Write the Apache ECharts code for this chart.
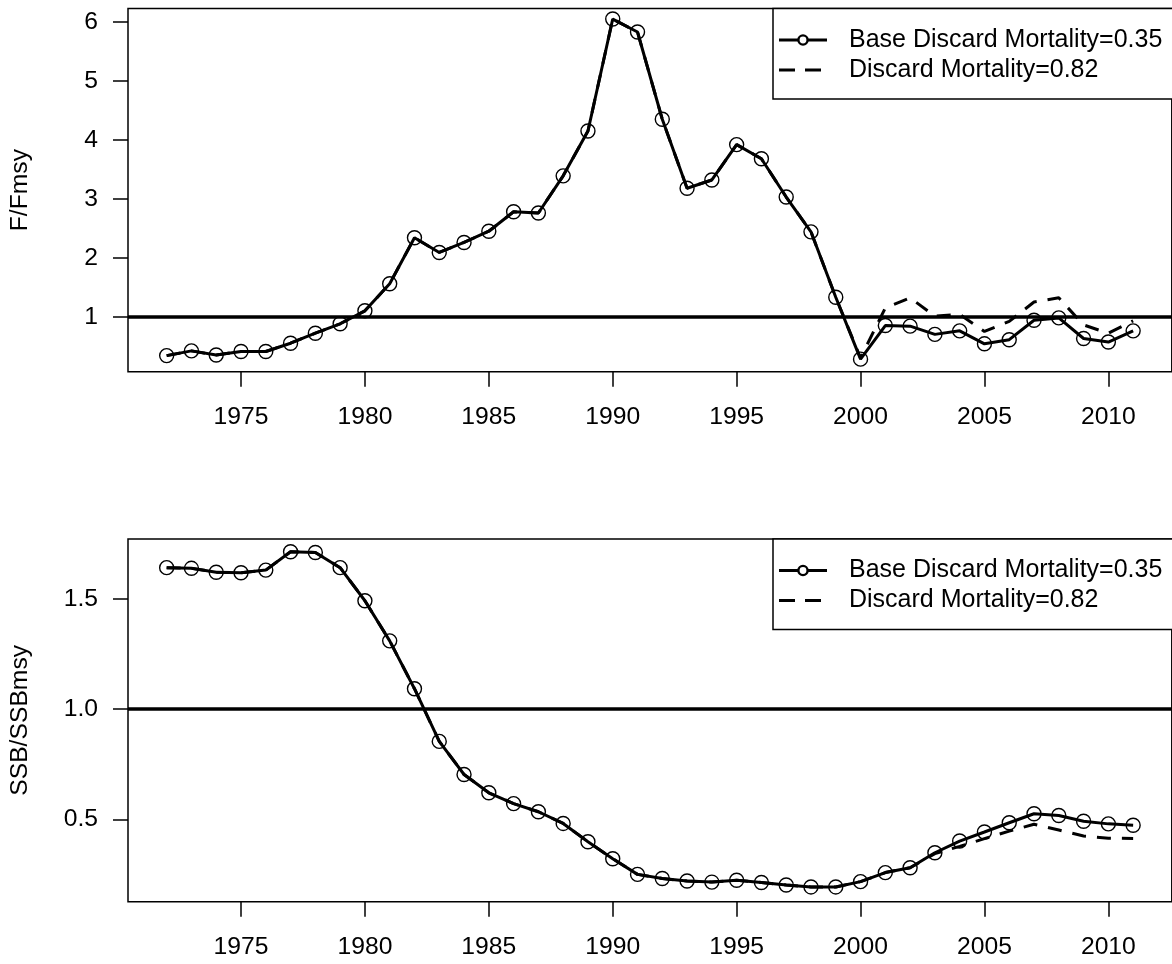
<!DOCTYPE html>
<html>
<head>
<meta charset="utf-8">
<title>F/Fmsy and SSB/SSBmsy under two discard mortality assumptions</title>
<script src="https://cdn.jsdelivr.net/npm/echarts@6/dist/echarts.min.js"></script>
<style>
  html, body { margin: 0; padding: 0; background: #fff; }
  #chart { width: 1172px; height: 964px; }
</style>
</head>
<body>
<div id="chart"></div>
<script>
// Assessment years
const years = [1972, 1973, 1974, 1975, 1976, 1977, 1978, 1979, 1980, 1981,
               1982, 1983, 1984, 1985, 1986, 1987, 1988, 1989, 1990, 1991,
               1992, 1993, 1994, 1995, 1996, 1997, 1998, 1999, 2000, 2001,
               2002, 2003, 2004, 2005, 2006, 2007, 2008, 2009, 2010, 2011];

// Fishing mortality relative to Fmsy
const fBase = [0.34, 0.42, 0.35, 0.41, 0.41, 0.55, 0.72, 0.88, 1.10, 1.56,
               2.34, 2.09, 2.26, 2.45, 2.78, 2.76, 3.39, 4.15, 6.05, 5.83,
               4.35, 3.18, 3.32, 3.92, 3.68, 3.03, 2.44, 1.33, 0.28, 0.85,
               0.84, 0.70, 0.76, 0.54, 0.61, 0.94, 0.98, 0.63, 0.57, 0.76];
const fHigh = [0.34, 0.42, 0.35, 0.41, 0.41, 0.55, 0.72, 0.88, 1.10, 1.56,
               2.34, 2.09, 2.26, 2.45, 2.78, 2.76, 3.39, 4.15, 6.05, 5.83,
               4.35, 3.18, 3.32, 3.92, 3.68, 3.03, 2.44, 1.33, 0.30, 1.15,
               1.32, 1.01, 1.04, 0.75, 0.92, 1.25, 1.32, 0.86, 0.72, 0.93];

// Spawning stock biomass relative to SSBmsy
const ssbBase = [1.642, 1.639, 1.621, 1.619, 1.631, 1.714, 1.711, 1.642, 1.492, 1.310,
                 1.093, 0.854, 0.704, 0.621, 0.572, 0.535, 0.482, 0.399, 0.322, 0.251,
                 0.232, 0.221, 0.216, 0.224, 0.214, 0.203, 0.194, 0.194, 0.218, 0.259,
                 0.281, 0.349, 0.402, 0.443, 0.485, 0.526, 0.518, 0.492, 0.480, 0.474];
const ssbHigh = [1.642, 1.639, 1.621, 1.619, 1.631, 1.714, 1.711, 1.642, 1.492, 1.310,
                 1.093, 0.854, 0.704, 0.621, 0.572, 0.535, 0.482, 0.399, 0.322, 0.251,
                 0.232, 0.221, 0.216, 0.224, 0.214, 0.203, 0.194, 0.194, 0.218, 0.259,
                 0.281, 0.345, 0.378, 0.413, 0.447, 0.478, 0.452, 0.425, 0.415, 0.414];

// Tick labels
const yearTicks = [1975, 1980, 1985, 1990, 1995, 2000, 2005, 2010];
const fTicks = [1, 2, 3, 4, 5, 6];
const ssbTicks = [0.5, 1.0, 1.5];

const seriesNames = ['Base Discard Mortality=0.35', 'Discard Mortality=0.82'];
const referenceLevel = 1;

const FONT = '"Liberation Sans", Arial, Helvetica, sans-serif';
const FS = 24.7;

function pairs(xs, ys) { return xs.map((x, i) => [x, ys[i]]); }

const chart = echarts.init(document.getElementById('chart'), null, { renderer: 'canvas' });

function xAxisFor(gridIndex) {
  return {
    type: 'value', gridIndex: gridIndex,
    min: 1970.44, max: 2012.56,
    splitLine: { show: false },
    axisLine: { show: false },
    axisTick: { show: true, length: 15, customValues: yearTicks,
                lineStyle: { color: '#000', width: 1.5 } },
    axisLabel: { customValues: yearTicks, color: '#000', fontFamily: FONT, fontSize: FS,
                 margin: 33, formatter: v => String(v) }
  };
}

function yAxisFor(gridIndex, name, min, max, ticks, fmt) {
  return {
    type: 'value', gridIndex: gridIndex, min: min, max: max,
    name: name, nameLocation: 'middle', nameGap: 95, nameRotate: 90,
    nameTextStyle: { color: '#000', fontFamily: FONT, fontSize: FS },
    splitLine: { show: false },
    axisLine: { show: false },
    axisTick: { show: true, length: 15, customValues: ticks,
                lineStyle: { color: '#000', width: 1.5 } },
    axisLabel: { customValues: ticks, color: '#000', fontFamily: FONT, fontSize: FS,
                 margin: 30, formatter: fmt }
  };
}

function baseSeries(idx, data) {
  return {
    name: seriesNames[0], type: 'line', xAxisIndex: idx, yAxisIndex: idx,
    data: data, symbol: 'circle', symbolSize: 14, showAllSymbol: true,
    lineStyle: { color: '#000', width: 3 },
    itemStyle: { color: 'rgba(0,0,0,0)', borderColor: '#000', borderWidth: 1.4 },
    emphasis: { disabled: true }, z: 3,
    markLine: {
      silent: true, symbol: ['none', 'none'], label: { show: false },
      lineStyle: { color: '#000', width: 3.5, type: 'solid' },
      data: [{ yAxis: referenceLevel }]
    }
  };
}

function altSeries(idx, data) {
  return {
    name: seriesNames[1], type: 'line', xAxisIndex: idx, yAxisIndex: idx,
    data: data, symbol: 'none',
    lineStyle: { color: '#000', width: 3, type: [14, 11] },
    emphasis: { disabled: true }, z: 2
  };
}

// Legend box drawn in the top-right corner of a panel
function legendBox(top) {
  const left = 773, h = 90.5;
  const r1 = top + 31.5, r2 = top + 61.5;
  return {
    type: 'group', silent: true,
    children: [
      { type: 'rect', shape: { x: left, y: top, width: 420, height: h },
        style: { fill: '#fff', stroke: '#000', lineWidth: 1.5 }, z: 10 },
      { type: 'line', shape: { x1: 779, y1: r1, x2: 827, y2: r1 },
        style: { stroke: '#000', lineWidth: 3 }, z: 11 },
      { type: 'circle', shape: { cx: 803, cy: r1, r: 4.6 },
        style: { fill: '#fff', stroke: '#000', lineWidth: 2.4 }, z: 12 },
      { type: 'line', shape: { x1: 779, y1: r2, x2: 827, y2: r2 },
        style: { stroke: '#000', lineWidth: 3, lineDash: [16, 10] }, z: 11 },
      { type: 'text', x: 849, y: r1,
        style: { text: seriesNames[0], fill: '#000', font: '25px ' + FONT,
                 textVerticalAlign: 'middle', verticalAlign: 'middle' }, z: 12 },
      { type: 'text', x: 849, y: r2,
        style: { text: seriesNames[1], fill: '#000', font: '25px ' + FONT,
                 textVerticalAlign: 'middle', verticalAlign: 'middle' }, z: 12 }
    ]
  };
}

const option = {
  animation: false,
  backgroundColor: '#fff',
  grid: [
    { left: 127.3, top: 8.5, width: 1044.5, height: 363.2, show: true,
      borderColor: '#000', borderWidth: 1.5, backgroundColor: 'transparent' },
    { left: 127.3, top: 539, width: 1044.5, height: 362.7, show: true,
      borderColor: '#000', borderWidth: 1.5, backgroundColor: 'transparent' }
  ],
  xAxis: [xAxisFor(0), xAxisFor(1)],
  yAxis: [
    yAxisFor(0, 'F/Fmsy', 0.067, 6.229, fTicks, v => String(v)),
    yAxisFor(1, 'SSB/SSBmsy', 0.127, 1.772, ssbTicks, v => v.toFixed(1))
  ],
  series: [
    baseSeries(0, pairs(years, fBase)),
    altSeries(0, pairs(years, fHigh)),
    baseSeries(1, pairs(years, ssbBase)),
    altSeries(1, pairs(years, ssbHigh))
  ],
  graphic: [legendBox(8.5), legendBox(539)]
};

chart.setOption(option);
</script>
</body>
</html>
